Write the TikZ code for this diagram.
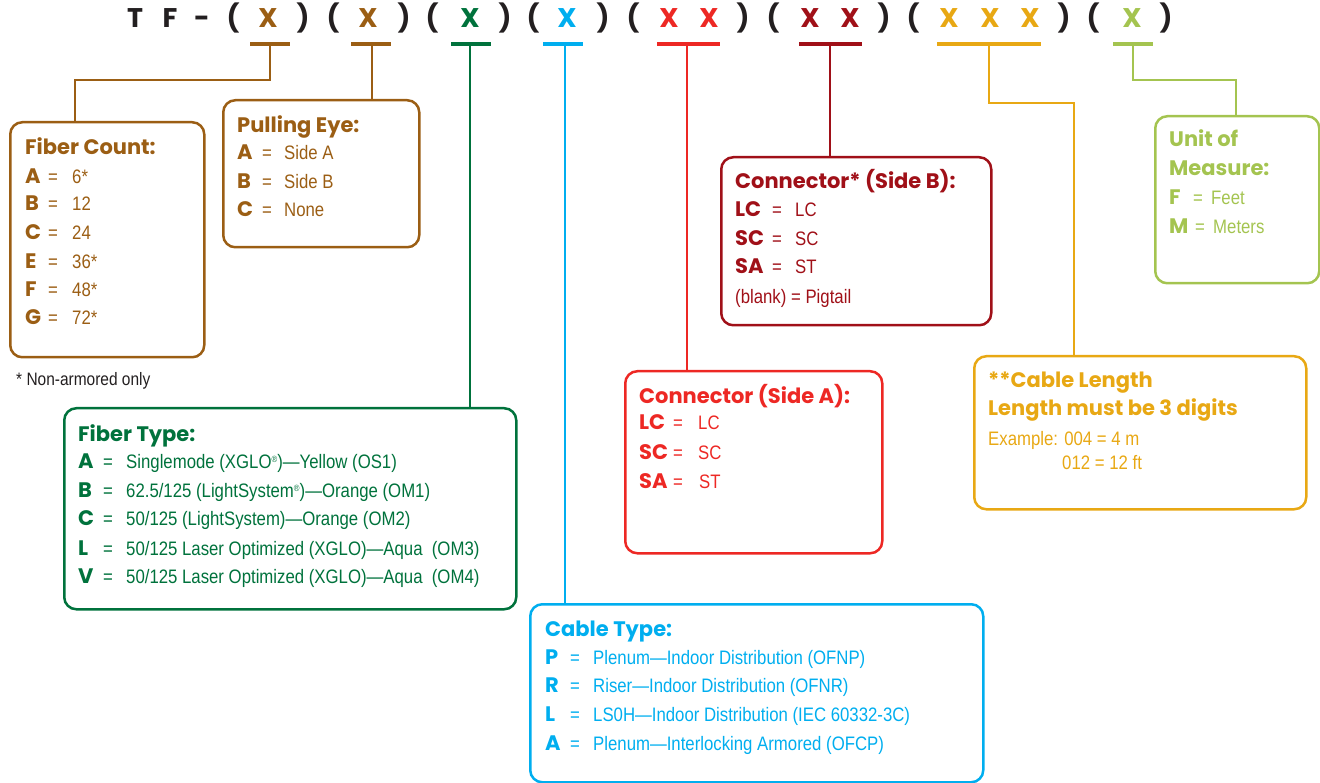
\documentclass[tikz,border=0pt]{standalone}
\usepackage{fontspec}
\newfontfamily\hdfam{Poppins}
\newfontfamily\bdfam{Liberation Sans}[FakeStretch=0.86]
\definecolor{ink}{RGB}{35,31,32}
\definecolor{brn}{RGB}{155,94,20}
\definecolor{grn}{RGB}{0,114,60}
\definecolor{blu}{RGB}{0,174,239}
\definecolor{red1}{RGB}{237,40,36}
\definecolor{dred}{RGB}{160,16,24}
\definecolor{gld}{RGB}{232,168,20}
\definecolor{lgr}{RGB}{164,196,80}
\newcommand\hdfont{\hdfam\bfseries\fontsize{21}{25}\selectfont}
\newcommand\kfont{\hdfam\bfseries\fontsize{21}{24}\selectfont}
\newcommand\bdfont{\bdfam\fontsize{19.5}{23}\selectfont}
\newcommand\ttlfont{\hdfam\bfseries\fontsize{27}{30}\selectfont}
\newcommand\regs{\raisebox{0.55ex}{\fontsize{9}{9}\selectfont ®}}
\newcommand\lpar{(}
\newcommand\rpar{)}
\tikzset{
  boxx/.style={draw=#1, line width=2.5pt, rounded corners=12pt, inner sep=0pt, anchor=north west},
  barr/.style={fill=#1, inner sep=0pt, minimum height=4pt},
  conn/.style={draw=#1, line width=2pt},
  hd/.style={font=\hdfont, text=#1, anchor=base west, inner sep=0pt},
  bd/.style={font=\bdfont, text=#1, anchor=base west, inner sep=0pt},
  kf/.style={font=\kfont, text=#1, anchor=base west, inner sep=0pt},
  ttl/.style={font=\ttlfont, text=#1, anchor=base, inner sep=0pt},
}
\newcommand\kvrow[8]{%
  \node[kf=#2] (#1k) at (#4,-#3-7) {#5};
  \node[bd=#2] (#1e) at (#6,-#3-7) {=};
  \node[bd=#2] (#1v) at (#7,-#3-7) {#8};}
\begin{document}
\begin{tikzpicture}[x=1pt,y=1pt]
\useasboundingbox (0,0) rectangle (1320,-783);
% title
\foreach \c/\x/\col [count=\i] in {T/135/ink,F/170/ink,-/202/ink,\lpar/233/ink,X/268/brn,\rpar/303/ink,\lpar/333/ink,X/368/brn,\rpar/404/ink,\lpar/432/ink,X/470/grn,\rpar/505/ink,\lpar/533/ink,X/567/blu,\rpar/603/ink,\lpar/633/ink,X/669/red1,X/709/red1,\rpar/743/ink,\lpar/773/ink,X/810/dred,X/850/dred,\rpar/884/ink,\lpar/913/ink,X/949/gld,X/990/gld,X/1030/gld,\rpar/1064/ink,\lpar/1093/ink,X/1132/lgr,\rpar/1166/ink}
  \node[ttl=\col] (t\i) at (\x,-28) {\c};
% bars
\node[barr=brn, minimum width=40pt] (b1) at (270,-44) {};
\node[barr=brn, minimum width=40pt] (b2) at (371,-44) {};
\node[barr=grn, minimum width=40pt] (b3) at (471,-44) {};
\node[barr=blu, minimum width=40pt] (b4) at (563,-44) {};
\node[barr=red1, minimum width=63pt] (b5) at (688,-44) {};
\node[barr=dred, minimum width=63pt] (b6) at (830,-44) {};
\node[barr=gld, minimum width=104pt] (b7) at (989,-44) {};
\node[barr=lgr, minimum width=40pt] (b8) at (1133,-44) {};
% boxes
\node[boxx=brn, minimum width=194pt, minimum height=235pt] (fc) at (9,-121) {};
\node[boxx=brn, minimum width=196pt, minimum height=147pt] (pe) at (222,-99) {};
\node[boxx=grn, minimum width=452pt, minimum height=201pt] (ft) at (63,-407) {};
\node[boxx=blu, minimum width=453pt, minimum height=178pt] (ct) at (529,-603) {};
\node[boxx=dred, minimum width=270pt, minimum height=168pt] (sb) at (720,-156) {};
\node[boxx=red1, minimum width=257pt, minimum height=182pt] (sa) at (624,-370) {};
\node[boxx=gld, minimum width=332pt, minimum height=153pt] (cl) at (973,-355) {};
\node[boxx=lgr, minimum width=164pt, minimum height=167pt] (um) at (1154,-115) {};
% connector helper coordinates
\coordinate (x1) at (75,-80);
\coordinate (x7) at (1074,-103);
\coordinate (x8) at (1236,-80);
\coordinate (xb2) at (372,0);
\coordinate (xb3) at (470,0);
\coordinate (xb4) at (565,0);
\coordinate (xb5) at (687,0);
% connectors
\draw[conn=brn] (b1.center) |- (x1) -- (fc.north -| x1);
\draw[conn=brn] (b2.center -| xb2) -- (pe.north -| xb2);
\draw[conn=grn] (b3.center -| xb3) -- (ft.north -| xb3);
\draw[conn=blu] (b4.center -| xb4) -- (ct.north -| xb4);
\draw[conn=red1] (b5.center -| xb5) -- (sa.north -| xb5);
\draw[conn=dred] (b6.center) -- (sb.north -| b6.center);
\draw[conn=gld] (b7.center) |- (x7) -- (cl.north -| x7);
\draw[conn=lgr] (b8.center) |- (x8) -- (um.north -| x8);
% Fiber Count
\node[hd=brn] (fch) at (25,-155) {Fiber Count:};
\kvrow{fca}{brn}{177}{25}{A}{48}{72}{6*}
\kvrow{fcb}{brn}{204}{25}{B}{48}{72}{12}
\kvrow{fcc}{brn}{233}{25}{C}{48}{72}{24}
\kvrow{fce}{brn}{262}{25}{E}{48}{72}{36*}
\kvrow{fcf}{brn}{290}{25}{F}{48}{72}{48*}
\kvrow{fcg}{brn}{318}{25}{G}{48}{72}{72*}
\node[bd=ink, font=\bdfam\fontsize{18}{22}\selectfont] (note) at (16,-386) {* Non-armored only};
% Pulling Eye
\node[hd=brn] (peh) at (237,-133) {Pulling Eye:};
\kvrow{pea}{brn}{153}{237}{A}{262}{284}{Side A}
\kvrow{peb}{brn}{182}{237}{B}{262}{284}{Side B}
\kvrow{pec}{brn}{210}{237}{C}{262}{284}{None}
% Fiber Type
\node[hd=grn] (fth) at (78,-441) {Fiber Type:};
\kvrow{fta}{grn}{461}{78}{A}{103}{126}{Singlemode (XGLO\regs)—Yellow (OS1)}
\kvrow{ftb}{grn}{490}{78}{B}{103}{126}{62.5/125 (LightSystem\regs)—Orange (OM1)}
\kvrow{ftc}{grn}{518}{78}{C}{103}{126}{50/125 (LightSystem)—Orange (OM2)}
\kvrow{ftl}{grn}{548}{78}{L}{103}{126}{50/125 Laser Optimized (XGLO)—Aqua\ \ (OM3)}
\kvrow{ftv}{grn}{576}{78}{V}{103}{126}{50/125 Laser Optimized (XGLO)—Aqua\ \ (OM4)}
% Cable Type
\node[hd=blu] (cth) at (545,-636) {Cable Type:};
\kvrow{ctp}{blu}{657}{545}{P}{570}{593}{Plenum—Indoor Distribution (OFNP)}
\kvrow{ctr}{blu}{685}{545}{R}{570}{593}{Riser—Indoor Distribution (OFNR)}
\kvrow{ctl}{blu}{714}{545}{L}{570}{593}{LS0H—Indoor Distribution (IEC 60332-3C)}
\kvrow{cta}{blu}{743}{545}{A}{570}{593}{Plenum—Interlocking Armored (OFCP)}
% Connector Side B
\node[hd=dred] (sbh) at (735,-189) {Connector* (Side B):};
\kvrow{sblc}{dred}{210}{735}{LC}{772}{795}{LC}
\kvrow{sbsc}{dred}{239}{735}{SC}{772}{795}{SC}
\kvrow{sbsa}{dred}{267}{735}{SA}{772}{795}{ST}
\node[bd=dred] (sbbl) at (735,-304) {(blank) = Pigtail};
% Connector Side A
\node[hd=red1] (sah) at (639,-403) {Connector (Side A):};
\kvrow{salc}{red1}{423}{639}{LC}{673}{698}{LC}
\kvrow{sasc}{red1}{452}{639}{SC}{673}{698}{SC}
\kvrow{sasa}{red1}{481}{639}{SA}{673}{699}{ST}
% Cable Length
\node[hd=gld] (clh1) at (988,-388) {**Cable Length};
\node[hd=gld] (clh2) at (988,-416) {Length must be 3 digits};
\node[bd=gld] (cle1) at (988,-445) {Example: 004 = 4 m};
\node[bd=gld] (cle2) at (1062,-469) {012 = 12 ft};
% Unit of Measure
\node[hd=lgr] (umh1) at (1169,-147) {Unit of};
\node[hd=lgr] (umh2) at (1169,-176) {Measure:};
\kvrow{umf}{lgr}{198}{1169}{F}{1193}{1211}{Feet}
\kvrow{umm}{lgr}{227}{1169}{M}{1195}{1213}{Meters}
\end{tikzpicture}
\end{document}
